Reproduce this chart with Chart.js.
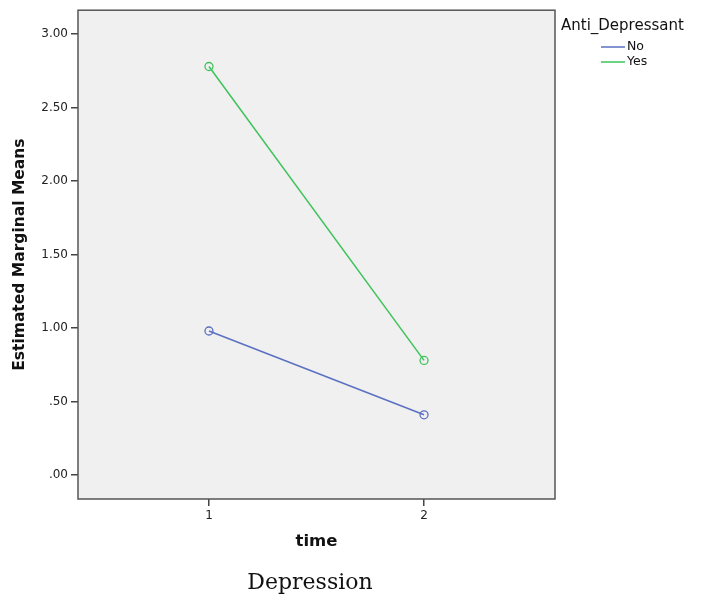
<!DOCTYPE html>
<html>
<head>
<meta charset="utf-8">
<script src="https://cdn.jsdelivr.net/npm/chart.js@4"></script>
<style>
  html, body { margin: 0; padding: 0; background: #fff; }
  #wrap { width: 707px; height: 602px; position: relative; }
</style>
</head>
<body>
<div id="wrap"><canvas id="chart" width="707" height="602"></canvas></div>
<script>
// Data
const times = [1, 2];
const groupNames = ['No', 'Yes'];
const noMeans = [0.98, 0.41];
const yesMeans = [2.78, 0.78];
const yTicks = [0, 0.5, 1, 1.5, 2, 2.5, 3];
const legendTitle = 'Anti_Depressant';
const caption = 'Depression';

const lineColors = ['#5b70c2', '#3ec35a'];

function toPoints(values) {
    return times.map((t, i) => ({ x: t, y: values[i] }));
}

// Plot background + frame
const frame = {
    id: 'frame',
    beforeDatasetsDraw(chart) {
        const { ctx, chartArea: a } = chart;
        ctx.save();
        ctx.fillStyle = '#f0f0f0';
        ctx.fillRect(a.left, a.top, a.right - a.left, a.bottom - a.top);
        ctx.restore();
    },
    afterDatasetsDraw(chart) {
        const { ctx, chartArea: a } = chart;
        ctx.save();
        ctx.strokeStyle = '#555';
        ctx.lineWidth = 1.5;
        ctx.strokeRect(a.left, a.top, a.right - a.left, a.bottom - a.top);
        ctx.restore();
    }
};

// SPSS style legend at top right, plus the caption under the chart
const sideLegend = {
    id: 'sideLegend',
    afterDraw(chart) {
        const ctx = chart.ctx;
        ctx.save();
        ctx.textBaseline = 'middle';
        ctx.textAlign = 'left';
        ctx.fillStyle = '#111';
        ctx.font = '15px "DejaVu Sans"';
        ctx.fillText(legendTitle, 561, 26);
        ctx.font = '12.5px "DejaVu Sans"';
        chart.data.datasets.forEach((ds, i) => {
            const y = 47 + i * 15;
            ctx.strokeStyle = ds.borderColor;
            ctx.lineWidth = 1.5;
            ctx.beginPath();
            ctx.moveTo(601, y);
            ctx.lineTo(625, y);
            ctx.stroke();
            ctx.fillStyle = '#111';
            ctx.fillText(ds.label, 627, y);
        });

        ctx.textAlign = 'center';
        ctx.font = '22px "DejaVu Serif"';
        ctx.fillText(caption, 310, 583);
        ctx.restore();
    }
};

new Chart(document.getElementById('chart'), {
    type: 'line',
    data: {
        datasets: [
            { label: groupNames[0], data: toPoints(noMeans), borderColor: lineColors[0] },
            { label: groupNames[1], data: toPoints(yesMeans), borderColor: lineColors[1] }
        ].map(ds => Object.assign(ds, {
            borderWidth: 1.5,
            pointRadius: 4,
            pointBorderWidth: 1.3,
            pointBackgroundColor: 'rgba(0,0,0,0)',
            pointBorderColor: ds.borderColor,
            tension: 0,
            fill: false
        }))
    },
    options: {
        responsive: false,
        animation: false,
        layout: { padding: { left: 0, top: 10, right: 152, bottom: 47 } },
        plugins: {
            legend: { display: false },
            tooltip: { enabled: false }
        },
        scales: {
            x: {
                type: 'linear',
                min: 0.391,
                max: 2.609,
                afterBuildTicks: s => { s.ticks = times.map(v => ({ value: v })); },
                afterFit: s => { s.height = 56; },
                grid: { drawOnChartArea: false, drawTicks: true, tickLength: 7, color: '#444', lineWidth: 1.5 },
                border: { display: false },
                ticks: { color: '#222', padding: 3, font: { family: '"DejaVu Sans"', size: 12 } },
                title: {
                    display: true, text: 'time', color: '#111',
                    font: { family: '"DejaVu Sans"', size: 16.5, weight: 'bold' },
                    padding: { top: 4, bottom: 3 }
                }
            },
            y: {
                min: -0.163,
                max: 3.163,
                afterBuildTicks: s => { s.ticks = yTicks.map(v => ({ value: v })); },
                afterFit: s => { s.width = 78; },
                grid: { drawOnChartArea: false, drawTicks: true, tickLength: 7, color: '#444', lineWidth: 1.5 },
                border: { display: false },
                ticks: {
                    color: '#222', padding: 3,
                    font: { family: '"DejaVu Sans"', size: 12 },
                    callback: v => v.toFixed(2).replace(/^0/, '')
                },
                title: {
                    display: true, text: 'Estimated Marginal Means', color: '#111',
                    font: { family: '"DejaVu Sans"', size: 15.5, weight: 'bold' },
                    padding: { top: 11, bottom: 0 }
                }
            }
        }
    },
    plugins: [frame, sideLegend]
});
</script>
</body>
</html>
